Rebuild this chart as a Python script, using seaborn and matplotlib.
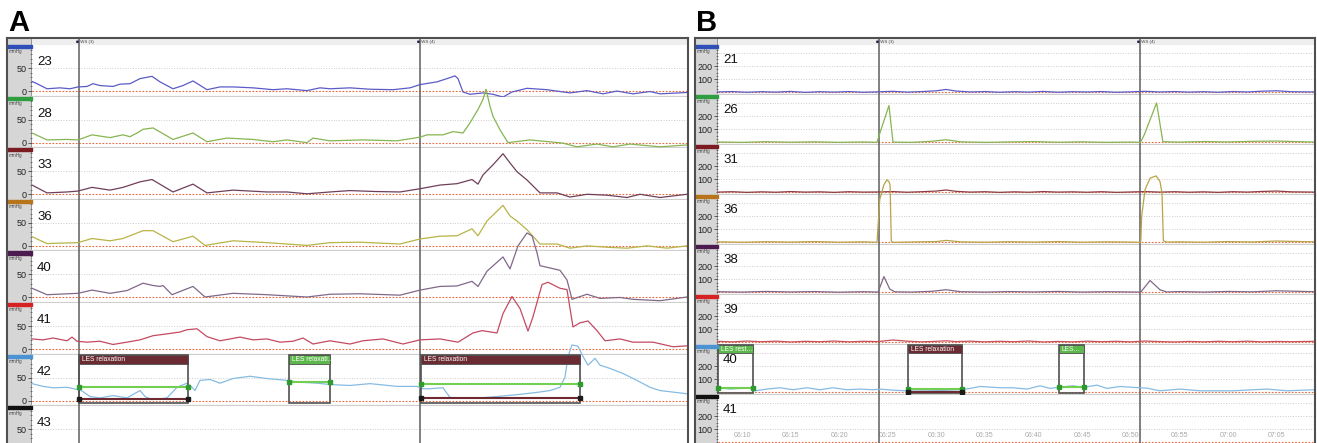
import numpy as np
import matplotlib
matplotlib.use("Agg")
import matplotlib.pyplot as plt
from matplotlib.patches import Rectangle
from matplotlib.ticker import MultipleLocator
import seaborn as sns

#%% panel A data (time in s, pressure in mmHg)
a_channels = ["23", "28", "33", "36", "40", "41", "42", "43"]

a_t23 = [0, 0.5, 1.5, 2.8, 3.8, 4.6, 5.5, 6.1, 6.8, 8.1, 8.8, 9.8, 10.8, 12.0, 12.8, 14.1, 15.1, 16.1,
         17.5, 18.8, 20.1, 22.1, 24.1, 25.5, 27.5, 28.8, 29.8, 31.8, 33.8, 36.1, 37.8, 38.8, 40.5, 41.5,
         42.3, 42.6, 43.1, 43.8, 45.1, 46.1, 47.1, 48.0, 49.5, 51.5, 53.8, 55.5, 57.1, 58.5, 60.1, 61.8,
         62.8, 65.6]
a_p23 = [21, 16, 5, 7, 5, 9, 10, 16, 12, 10, 15, 16, 27, 32, 20, 5, 12, 22, 3, 9, 9, 7, 3, 5, 1, 7, 5,
         7, 4, 3, 7, 14, 20, 27, 33, 27, -2, -7, -4, -7, -13, -2, 6, 3, -4, 1, -6, 0, -6, -1, -6, -3]

a_t28 = [0, 1.5, 3.5, 4.6, 6.0, 7.8, 9.1, 9.8, 10.5, 11.1, 12.1, 14.1, 16.1, 17.5, 19.5, 22.1, 24.1,
         25.5, 27.5, 28.1, 29.8, 33.1, 36.5, 38.8, 39.5, 41.1, 42.1, 43.1, 43.8, 44.6, 45.1, 45.4, 45.8,
         46.1, 46.8, 47.6, 49.8, 53.1, 54.5, 56.5, 58.1, 59.8, 62.8, 65.5]
a_p28 = [21, 6, 7, 6, 17, 11, 17, 13, 21, 29, 32, 7, 21, 2, 10, 7, 2, 6, 0, 10, 4, 6, 4, 12, 17, 17,
         24, 21, 43, 72, 94, 116, 79, 57, 28, 0, 6, -1, -9, -3, -9, -3, -9, -5]

a_t33 = [0, 1.5, 3.5, 4.6, 6.0, 7.8, 9.1, 10.8, 12.0, 14.1, 16.1, 17.5, 20.1, 23.5, 25.5, 27.5, 29.8,
         31.8, 34.3, 36.8, 38.8, 40.8, 42.5, 44.0, 44.6, 45.1, 46.1, 47.1, 47.8, 48.5, 49.5, 50.8, 52.5,
         53.8, 55.5, 57.5, 59.5, 60.8, 62.8, 65.5]
a_p33 = [20, 3, 5, 7, 15, 9, 15, 27, 32, 5, 22, 3, 9, 5, 5, 1, 5, 8, 6, 5, 12, 20, 23, 32, 22, 42, 64,
         88, 68, 49, 31, 3, 3, -6, 0, -2, -7, 0, -7, 0]

a_t36 = [0, 1.5, 4.6, 6.0, 7.8, 9.1, 11.1, 12.1, 14.1, 16.1, 17.3, 20.1, 23.5, 25.5, 27.5, 29.8, 32.8,
         36.8, 38.8, 40.8, 42.5, 44.0, 44.6, 45.5, 47.1, 47.8, 48.5, 49.5, 50.8, 52.5, 53.8, 55.5, 57.5,
         59.5, 61.5, 63.5, 65.5]
a_p36 = [20, 5, 7, 16, 11, 16, 33, 33, 9, 21, 1, 11, 7, 4, 1, 7, 8, 4, 15, 21, 22, 37, 22, 54, 88, 65,
         54, 35, 4, 4, -5, 0, -3, -5, 0, -5, 0]

a_t40 = [0, 1.5, 4.6, 6.0, 7.8, 9.5, 11.1, 12.1, 12.8, 13.1, 14.0, 16.1, 17.3, 20.1, 23.5, 27.5, 29.8,
         32.8, 36.8, 38.8, 40.8, 42.5, 44.0, 44.6, 45.5, 47.1, 47.8, 48.6, 49.5, 50.0, 50.5, 50.8, 51.8,
         52.8, 53.5, 54.0, 55.5, 56.8, 58.8, 60.1, 62.8, 65.5]
a_p40 = [20, 6, 9, 16, 9, 15, 31, 26, 24, 26, 6, 24, 1, 9, 6, 1, 7, 8, 5, 16, 24, 25, 35, 24, 57, 88,
         62, 112, 140, 134, 97, 69, 64, 59, 38, -4, 7, -2, 0, -4, -7, 1]

a_t41 = [0, 1.1, 2.1, 3.5, 4.0, 4.5, 5.5, 6.8, 8.1, 9.5, 10.8, 12.1, 13.5, 14.8, 15.5, 16.5, 17.5,
         18.8, 20.8, 22.1, 23.5, 24.8, 26.1, 27.1, 28.1, 29.8, 31.8, 33.1, 35.1, 37.1, 38.8, 40.8, 42.6,
         44.1, 45.0, 46.5, 47.1, 48.0, 48.8, 49.6, 50.1, 51.0, 51.6, 52.8, 53.5, 54.1, 54.8, 55.6, 56.5,
         57.3, 58.8, 60.1, 62.1, 64.1, 65.5]
a_p41 = [22, 20, 24, 18, 26, 17, 15, 17, 10, 15, 20, 29, 33, 37, 42, 44, 27, 18, 26, 20, 22, 15, 17,
         24, 11, 18, 11, 18, 22, 11, 20, 22, 15, 35, 40, 35, 77, 114, 88, 39, 70, 140, 145, 132, 129,
         48, 57, 61, 40, 18, 22, 15, 15, 5, 7]

a_t42 = [0, 1.1, 2.1, 3.5, 4.6, 5.0, 5.8, 6.8, 8.1, 9.5, 10.8, 11.3, 11.8, 12.8, 13.5, 14.5, 15.5,
         16.0, 16.3, 16.8, 17.8, 18.8, 20.1, 21.8, 23.5, 25.5, 26.8, 28.5, 29.8, 31.8, 33.8, 36.5, 38.5,
         39.0, 39.8, 41.1, 41.8, 43.1, 44.8, 46.5, 48.5, 50.5, 51.8, 52.8, 53.3, 53.6, 54.0, 54.6, 55.1,
         55.6, 56.3, 56.8, 57.8, 59.1, 60.5, 61.8, 62.8, 65.5]
a_p42 = [37, 31, 28, 29, 24, 21, 9, 6, 11, 6, 22, 9, 4, 4, 6, 29, 38, 29, 22, 44, 46, 38, 48, 53, 48,
         44, 40, 38, 35, 33, 37, 31, 31, 26, 26, 28, 7, 6, 6, 9, 13, 18, 22, 29, 51, 96, 121, 118, 96,
         77, 92, 77, 70, 59, 44, 29, 22, 15]

a_swallows = [4.7, 38.8]
a_swallow_labels = ["WS (3)", "WS (4)"]
a_les_start = [4.7, 25.7, 38.9]
a_les_end = [15.6, 29.8, 54.8]
a_les_labels = ["LES relaxation", "LES relaxati\u2026", "LES relaxation"]
a_les_kind = ["relax", "rest", "relax"]
a_les_green = [30, 41, 37]
a_les_floor = [3, None, 5]

#%% panel B data (time in min after 06:00, pressure in mmHg)
b_channels = ["21", "26", "31", "36", "38", "39", "40", "41"]

b_t_base = [7.5, 9.0, 10.5, 12.0, 13.5, 15.0, 16.5, 18.0, 19.5, 21.0, 22.5, 24.0, 25.5, 27.0, 28.5,
            30.0, 31.0, 32.0, 33.5, 35.0, 36.5, 38.0, 39.5, 41.0, 42.5, 44.0, 45.5, 47.0, 48.5, 50.0,
            51.5, 53.0, 54.5, 56.0, 57.5, 59.0, 60.5, 62.0, 63.5, 65.0, 66.5, 68.9]
b_p21 = [3, 6, 1, 5, 2, 7, 0, 5, 2, 6, 1, 4, 8, 2, 6, 12, 22, 10, 3, 6, 1, 5, 2, 7, 1, 5, 3, 6, 1, 4,
         8, 3, 6, 2, 5, 1, 6, 3, 9, 12, 5, 3]
b_p31 = [2, 5, 0, 4, 1, 6, 2, 4, 0, 5, 2, 3, 6, 1, 5, 10, 18, 8, 2, 5, 0, 4, 1, 6, 2, 4, 1, 5, 0, 3,
         6, 2, 5, 1, 4, 0, 5, 2, 7, 10, 4, 2]
b_p39 = [8, 4, 10, 5, 9, 3, 8, 5, 10, 4, 8, 6, 18, 9, 4, 8, 12, 6, 9, 4, 8, 5, 10, 3, 7, 4, 9, 5, 8,
         4, 10, 6, 3, 7, 4, 8, 5, 9, 4, 7, 5, 8]

b_t26 = [7.5, 10.0, 12.5, 15.0, 17.5, 20.0, 22.5, 23.89, 24.2, 25.12, 25.53, 27.5, 29.5, 31.0, 32.5,
         35.0, 37.5, 40.0, 42.5, 45.0, 47.5, 50.0, 51.0, 51.4, 52.65, 53.3, 55.0, 57.5, 60.0, 62.5,
         65.0, 68.9]
b_p26 = [3, 0, 5, 1, 4, 0, 3, 0, 75, 280, 2, 0, 8, 20, 4, 0, 3, 6, 1, 4, 0, 2, 0, 60, 300, 5, 2, 6,
         3, 8, 10, 2]

b_t36 = [7.5, 10.0, 12.5, 15.0, 17.5, 20.0, 22.5, 23.89, 24.17, 24.61, 24.92, 25.12, 25.23, 25.36,
         25.6, 27.5, 30.0, 31.0, 32.5, 35.0, 37.5, 40.0, 42.5, 45.0, 47.5, 50.0, 51.02, 51.12, 51.46,
         51.98, 52.6, 53.0, 53.21, 53.35, 53.7, 55.0, 57.5, 60.0, 62.5, 65.0, 68.9]
b_p36 = [4, 1, 5, 2, 6, 1, 4, 0, 326, 440, 476, 460, 440, 5, 0, 3, 6, 15, 4, 1, 5, 2, 6, 1, 4, 2, 0,
         200, 400, 488, 505, 463, 375, 12, 2, 4, 1, 6, 3, 10, 4]

b_t38 = [7.5, 10.0, 12.5, 15.0, 17.5, 20.0, 22.5, 24.0, 24.6, 25.2, 25.74, 27.5, 29.5, 31.0, 32.5,
         35.0, 37.5, 40.0, 42.5, 45.0, 47.5, 50.0, 51.02, 51.98, 53.0, 53.7, 55.0, 57.5, 60.0, 62.5,
         65.0, 68.9]
b_p38 = [5, 2, 7, 3, 6, 1, 5, 2, 120, 25, 4, 2, 8, 20, 5, 2, 6, 3, 7, 2, 5, 3, 2, 90, 20, 3, 6, 2, 7,
         4, 12, 5]

b_t40 = [7.53, 8.77, 10.82, 11.34, 12.57, 13.91, 15.25, 16.69, 18.02, 19.36, 20.8, 22.14, 23.48,
         24.2, 25.53, 27.28, 29.65, 32.43, 33.46, 34.49, 36.54, 37.88, 39.32, 40.66, 41.69, 42.72,
         44.05, 45.08, 46.52, 47.55, 48.89, 50.23, 51.67, 53.0, 55.06, 57.12, 60.51, 64.01, 66.07,
         68.9]
b_p40 = [35, 25, 35, 12, 25, 35, 20, 35, 20, 35, 20, 25, 20, 25, 17, 10, 12, 20, 30, 45, 35, 35, 25,
         50, 30, 40, 50, 38, 55, 30, 45, 38, 32, 12, 25, 12, 12, 25, 12, 20]

b_swallows = [24.1, 50.95]
b_swallow_labels = ["WS (3)", "WS (4)"]
b_les_start = [7.53, 27.08, 42.61]
b_les_end = [11.13, 32.63, 45.19]
b_les_labels = ["LES rest\u2026", "LES relaxation", "LES\u2026"]
b_les_kind = ["rest", "relax", "rest"]
b_les_green = [35, 25, 42]
b_les_floor = [None, 5, None]

b_time_ticks = [10, 15, 20, 25, 30, 35, 40, 45, 50, 55, 60, 65]
b_time_labels = ["06:10", "06:15", "06:20", "06:25", "06:30", "06:35",
                 "06:40", "06:45", "06:50", "06:55", "07:00", "07:05"]

#%% colours
bar_colors = ["#2f4fb8", "#2e9e40", "#7a1c22", "#b8741a", "#4c1c50", "#d62222", "#4b93d3", "#111111"]
a_colors = ["#5b5bc8", "#86b552", "#6f3f5a", "#b8b446", "#80688a", "#c44a62", "#86bce2", None]
b_colors = ["#5b5bc8", "#86b552", "#8c3d45", "#b8a446", "#80688a", "#c85058", "#86bce2", None]
les_colors = {"relax": "#6b2b32", "rest": "#5cb84a"}

#%% figure
sns.set_theme(style="white")
plt.rcParams["font.family"] = ["Liberation Sans", "DejaVu Sans"]

W, H = 1317, 443
fig = plt.figure(figsize=(W / 100, H / 100), dpi=100)
TOP, HEAD = 38, 7


def px_box(x, y, w, h):
    return [x / W, 1 - (y + h) / H, w / W, h / H]


def draw_les(ax, starts, ends, labels, kinds, greens, floors, ybot, ytop, head_h):
    for t0, t1, lab, k, g, f in zip(starts, ends, labels, kinds, greens, floors):
        ax.add_patch(Rectangle((t0, ybot), t1 - t0, ytop - ybot, fill=False, ec="#505050",
                               lw=1.2, zorder=4, clip_on=False))
        ax.add_patch(Rectangle((t0, ytop - head_h), t1 - t0, head_h, fc=les_colors[k],
                               ec="#505050", lw=0.6, zorder=4, clip_on=False))
        ax.annotate(lab, xy=(t0, ytop - head_h / 2), xytext=(2, 0), textcoords="offset points",
                    color="white", fontsize=4.8, va="center", ha="left", zorder=6)
        ax.plot([t0, t1], [g, g], color="#72cf52", lw=1.5, marker="s", ms=2.5,
                mfc="#2f9a30", mec="#2f9a30", zorder=5, clip_on=False)
        if f is not None:
            ax.plot([t0, t1], [f, f], color="#6e2a30", lw=1.5, marker="s", ms=2.5,
                    mfc="#1a1a1a", mec="#1a1a1a", zorder=5, clip_on=False)


def draw_panel(letter, x0, strip_w, plot_w, row_h, xlim, ylim, yticks, yminor, grid,
               channels, traces, colors, swallows, sw_labels, label_dy):
    # grey scale strip
    sx = fig.add_axes(px_box(x0, TOP, strip_w, H - TOP + 30), zorder=0)
    sx.set_facecolor("#d6d6d6")
    sx.set_xticks([])
    sx.set_yticks([])
    for name, sp in sx.spines.items():
        sp.set_visible(name == "right")
    sx.spines["right"].set_color("#8a8a8a")

    # header band with swallow markers
    hx = fig.add_axes(px_box(x0 + strip_w, TOP, plot_w, HEAD), zorder=1)
    hx.set_facecolor("#eeeeee")
    hx.set_xlim(xlim)
    hx.set_ylim(0, 1)
    hx.set_xticks([])
    hx.set_yticks([])
    for sp in hx.spines.values():
        sp.set_visible(False)
    for t, lab in zip(swallows, sw_labels):
        hx.axvline(t, color="#5e5e5e", lw=1.1)
        hx.text(t, 0.45, "\u25a0", ha="right", va="center", fontsize=3.5, color="#1c1c48")
        hx.text(t, 0.45, " " + lab, ha="left", va="center", fontsize=3.2, color="#444444")

    rows = []
    for i, (ch, tr, c) in enumerate(zip(channels, traces, colors)):
        ax = fig.add_axes(px_box(x0 + strip_w, TOP + HEAD + i * row_h, plot_w, row_h), zorder=1)
        ax.set_facecolor("white")
        ax.set_xlim(xlim)
        ax.set_ylim(ylim)
        for g in grid:
            ax.axhline(g, color="#cccccc", lw=0.7, ls=":")
        ax.axhline(0, color="#e8673c", lw=0.8, ls=(0, (1.5, 1.5)))
        for t in swallows:
            ax.axvline(t, color="#5e5e5e", lw=1.1, zorder=3)
        if tr is not None:
            sns.lineplot(x=tr[0], y=tr[1], ax=ax, color=c, linewidth=0.9,
                         estimator=None, sort=False)
            ax.lines[-1].set_clip_on(False)
            ax.lines[-1].set_zorder(4)
        ax.set_xlabel("")
        ax.set_ylabel("")
        for name, sp in ax.spines.items():
            sp.set_visible(name == "bottom")
        ax.spines["bottom"].set_color("#cfcfcf")
        ax.spines["bottom"].set_linewidth(1.6)
        ax.set_xticks([])
        # the last row runs off the bottom of the picture: keep only labels that show
        bottom_px = TOP + HEAD + (i + 1) * row_h
        shown = [v for v in yticks if bottom_px - (v - ylim[0]) / (ylim[1] - ylim[0]) * row_h < H - 6]
        ax.set_yticks(shown)
        ax.yaxis.set_minor_locator(MultipleLocator(yminor))
        ax.tick_params(axis="y", which="major", left=True, direction="out", length=3,
                       width=0.6, color="#444444", labelsize=6.5, pad=1, labelcolor="#222222")
        ax.tick_params(axis="y", which="minor", left=True, direction="out", length=1.5,
                       width=0.5, color="#555555")
        # channel number, unit and colour bar in the strip
        ax.annotate(ch, xy=(0, 1), xycoords="axes fraction", xytext=(5, -label_dy),
                    textcoords="offset pixels", fontsize=9.5, va="center", ha="left",
                    color="#111111")
        ax.annotate("mmHg", xy=(0, 1), xycoords="axes fraction", xytext=(-strip_w + 2, -7),
                    textcoords="offset pixels", fontsize=3.3, va="center", ha="left",
                    color="#444444", annotation_clip=False)
        ax.add_patch(Rectangle((-strip_w / plot_w, 1 - 3.2 / row_h), strip_w / plot_w, 3.2 / row_h,
                               transform=ax.transAxes, clip_on=False, color=bar_colors[i],
                               zorder=5))
        rows.append(ax)

    # frame round the panel
    fx = fig.add_axes(px_box(x0, TOP, strip_w + plot_w, H - TOP + 30), zorder=6)
    fx.set_facecolor("none")
    fx.set_xticks([])
    fx.set_yticks([])
    for sp in fx.spines.values():
        sp.set_color("#505050")
        sp.set_linewidth(1.5)

    fig.text((x0 + 1) / W, 1 - 31 / H, letter, fontsize=21, fontweight="bold",
             va="baseline", ha="left", color="black")
    return rows


a_traces = [(a_t23, a_p23), (a_t28, a_p28), (a_t33, a_p33), (a_t36, a_p36),
            (a_t40, a_p40), (a_t41, a_p41), (a_t42, a_p42), None]
rows_a = draw_panel("A", 7, 25, 681 - 25, 51.6, (0, 65.6), (-12, 100), [0, 50], 10, [50],
                    a_channels, a_traces, a_colors, a_swallows, a_swallow_labels, 17)
draw_les(rows_a[6], a_les_start, a_les_end, a_les_labels, a_les_kind, a_les_green,
         a_les_floor, -6, 100, 19.5)

b_traces = [(b_t_base, b_p21), (b_t26, b_p26), (b_t_base, b_p31), (b_t36, b_p36),
            (b_t38, b_p38), (b_t_base, b_p39), (b_t40, b_p40), None]
rows_b = draw_panel("B", 695, 23, 1315 - 718, 50, (7.53, 68.95), (-20, 360), [100, 200], 25,
                    [100, 200, 300], b_channels, b_traces, b_colors, b_swallows,
                    b_swallow_labels, 15)
draw_les(rows_b[6], b_les_start, b_les_end, b_les_labels, b_les_kind, b_les_green,
         b_les_floor, -8, 360, 61)

ax8 = rows_b[7]
ax8.set_xticks(b_time_ticks)
ax8.set_xticklabels(b_time_labels)
ax8.tick_params(axis="x", bottom=True, length=0, pad=-9.5, labelsize=5, labelcolor="#a8a8a8")

fig.savefig("out.png", dpi=100)
